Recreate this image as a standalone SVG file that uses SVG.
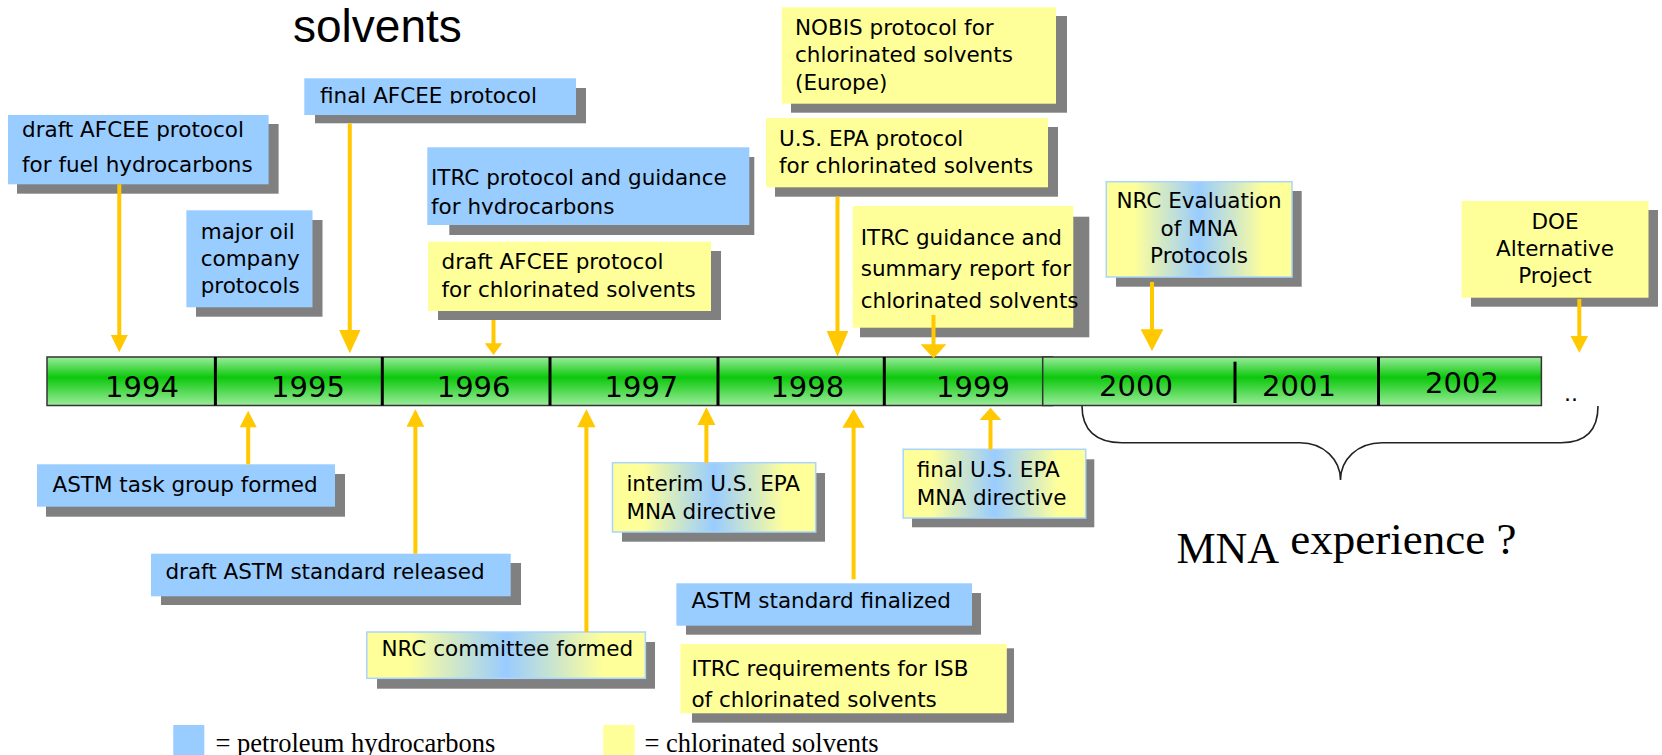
<svg xmlns="http://www.w3.org/2000/svg" width="1662" height="755" viewBox="0 0 1662 755">
<style>
.t{font-family:"DejaVu Sans","Liberation Sans",sans-serif;font-size:21.5px;fill:#000}
.yr{font-family:"DejaVu Sans","Liberation Sans",sans-serif;font-size:29px;fill:#000;text-anchor:middle}
.c{text-anchor:middle}
.blue{fill:#99CCFF}
.yel{fill:#FFFF99}
.shd{fill:#808080}
.grad{fill:url(#gyb);stroke:#A8D4FF;stroke-width:1.5}
.ln{stroke:#FFC800;stroke-width:4;fill:none}
.hd{fill:#FFC800}
.div{stroke:#000;stroke-width:3}
.serif{font-family:"Liberation Serif","Times New Roman",serif;fill:#000}
</style>
<defs>
<linearGradient id="gyb" x1="0" y1="0" x2="1" y2="0">
<stop offset="0" stop-color="#FFFF99"/>
<stop offset="0.15" stop-color="#FFFF99"/>
<stop offset="0.5" stop-color="#99CCFF"/>
<stop offset="0.85" stop-color="#FFFF99"/>
<stop offset="1" stop-color="#FFFF99"/>
</linearGradient>
<linearGradient id="bar" x1="0" y1="0" x2="0" y2="1">
<stop offset="0" stop-color="#9CEC9C"/>
<stop offset="0.42" stop-color="#0CC80C"/>
<stop offset="1" stop-color="#9CEC9C"/>
</linearGradient>
<clipPath id="clipC"><rect x="300" y="75" width="280" height="28.5"/></clipPath>
<clipPath id="clipI"><rect x="425" y="145" width="330" height="69.5"/></clipPath>
</defs>

<text x="293" y="41.5" style="font-family:'Liberation Sans',Arial,sans-serif;font-size:46px;fill:#000">solvents</text>

<g id="timeline">
<rect x="47" y="357" width="1005.5" height="48.5" fill="url(#bar)" stroke="#333" stroke-width="1.5"/>
<rect x="1042.7" y="357" width="498.7" height="48.5" fill="url(#bar)" stroke="#333" stroke-width="1.5"/>
<line class="div" x1="215.4" y1="357" x2="215.4" y2="405.5"/>
<line class="div" x1="382.3" y1="357" x2="382.3" y2="405.5"/>
<line class="div" x1="550" y1="357" x2="550" y2="405.5"/>
<line class="div" x1="718" y1="357" x2="718" y2="405.5"/>
<line class="div" x1="884.3" y1="357" x2="884.3" y2="405.5"/>
<line class="div" x1="1235" y1="361.7" x2="1235" y2="403" stroke-width="2.5"/>
<line class="div" x1="1378.5" y1="357" x2="1378.5" y2="405.5" stroke-width="2.5"/>
<text class="yr" x="142" y="396.5">1994</text>
<text class="yr" x="308" y="396.5">1995</text>
<text class="yr" x="473.6" y="396.5">1996</text>
<text class="yr" x="641.4" y="396.5">1997</text>
<text class="yr" x="807.3" y="396.5">1998</text>
<text class="yr" x="973" y="396.5">1999</text>
<text class="yr" x="1136" y="396">2000</text>
<text class="yr" x="1299" y="396">2001</text>
<text class="yr" x="1462" y="392.7">2002</text>
<text class="t" x="1564" y="401" style="font-size:22px">..</text>
<path d="M1082,406 C1082,430 1096,442.7 1122,442.7 L1300,442.7 C1324,442.7 1340.5,460 1340.5,480 C1340.5,460 1357,442.7 1382,442.7 L1561,442.7 C1586,442.7 1598,430 1598,406" fill="none" stroke="#222" stroke-width="1.6"/>
<text class="serif" x="1176.4" y="562.7" style="font-size:44px">MNA<tspan dy="-8.4" style="font-size:45px"> experience ?</tspan></text>
</g>

<g id="n-draft-afcee-fuel">
<rect class="shd" x="17" y="124" width="261.6" height="69.7"/>
<rect class="blue" x="8" y="115" width="260.6" height="69.3"/>
<text class="t" x="22" y="137.3">draft AFCEE protocol</text>
<text class="t" x="22" y="171.7">for fuel hydrocarbons</text>
</g>

<g id="n-major-oil">
<rect class="shd" x="196" y="220" width="126.5" height="96.7"/>
<rect class="blue" x="186.4" y="210.3" width="126.1" height="97"/>
<text class="t" x="200.7" y="238.7">major oil</text>
<text class="t" x="200.7" y="265.7">company</text>
<text class="t" x="200.7" y="292.7">protocols</text>
</g>

<g id="n-final-afcee">
<rect class="shd" x="315" y="88" width="271" height="35.3"/>
<rect class="blue" x="304.3" y="78.3" width="271.7" height="36.7"/>
<text class="t" x="320" y="103.3" clip-path="url(#clipC)">final AFCEE protocol</text>
</g>

<g id="n-itrc-hydrocarbons">
<rect class="shd" x="449.3" y="157" width="305" height="78"/>
<rect class="blue" x="427.3" y="147.3" width="322" height="77.7"/>
<g clip-path="url(#clipI)">
<text class="t" x="431" y="185">ITRC protocol and guidance</text>
<text class="t" x="431" y="214">for hydrocarbons</text>
</g>
</g>

<g id="n-draft-afcee-chlor">
<rect class="shd" x="438" y="251" width="283" height="69"/>
<rect class="yel" x="428" y="241.7" width="283" height="69.3"/>
<text class="t" x="441.5" y="269.3">draft AFCEE protocol</text>
<text class="t" x="441.5" y="296.7">for chlorinated solvents</text>
</g>

<g id="n-nobis">
<rect class="shd" x="791" y="16" width="276" height="96.7"/>
<rect class="yel" x="781.7" y="7.3" width="274.3" height="96.4"/>
<text class="t" x="795" y="34.7">NOBIS protocol for</text>
<text class="t" x="795" y="62.3">chlorinated solvents</text>
<text class="t" x="795" y="90">(Europe)</text>
</g>

<g id="n-usepa-protocol">
<rect class="shd" x="775" y="127" width="283" height="69.7"/>
<rect class="yel" x="766" y="118" width="282" height="69.3"/>
<text class="t" x="779" y="146">U.S. EPA protocol</text>
<text class="t" x="779" y="173.3">for chlorinated solvents</text>
</g>

<g id="n-itrc-guidance">
<rect class="shd" x="860" y="216.7" width="229.3" height="120.6"/>
<rect class="yel" x="852.7" y="206" width="220.6" height="121.7"/>
<text class="t" x="860.7" y="245">ITRC guidance and</text>
<text class="t" x="860.7" y="276">summary report for</text>
<text class="t" x="860.7" y="308.3">chlorinated solvents</text>
</g>

<g id="n-nrc-evaluation">
<rect class="shd" x="1116" y="191" width="185.7" height="95.7"/>
<rect class="grad" x="1106.3" y="181.7" width="185.7" height="95.3"/>
<text class="t c" x="1199" y="208.3">NRC Evaluation</text>
<text class="t c" x="1199" y="235.7">of MNA</text>
<text class="t c" x="1199" y="263.3">Protocols</text>
</g>

<g id="n-doe">
<rect class="shd" x="1471" y="210" width="187" height="96.7"/>
<rect class="yel" x="1461.6" y="201" width="186.9" height="96.7"/>
<text class="t c" x="1555" y="229.3">DOE</text>
<text class="t c" x="1555" y="256">Alternative</text>
<text class="t c" x="1555" y="282.7">Project</text>
</g>

<g id="n-astm-task">
<rect class="shd" x="46" y="474" width="299" height="42.7"/>
<rect class="blue" x="37" y="464.3" width="298" height="42.4"/>
<text class="t" x="52.5" y="491.7">ASTM task group formed</text>
</g>

<g id="n-draft-astm">
<rect class="shd" x="161" y="563" width="360" height="42"/>
<rect class="blue" x="151" y="553.7" width="359.7" height="42.6"/>
<text class="t" x="165.4" y="579">draft ASTM standard released</text>
</g>

<g id="n-nrc-committee">
<rect class="shd" x="377" y="642" width="278" height="46.7"/>
<rect class="grad" x="366.8" y="632" width="278.6" height="46.3"/>
<text class="t" x="381.4" y="656">NRC committee formed</text>
</g>

<g id="n-interim-epa">
<rect class="shd" x="622" y="473" width="203" height="68.7"/>
<rect class="grad" x="612.5" y="462.7" width="203.2" height="69.3"/>
<text class="t" x="626.4" y="490.7">interim U.S. EPA</text>
<text class="t" x="626.4" y="519">MNA directive</text>
</g>

<g id="n-astm-final">
<rect class="shd" x="686" y="593" width="295" height="41.7"/>
<rect class="blue" x="676.4" y="583.3" width="295.6" height="42.4"/>
<text class="t" x="691.4" y="608.3">ASTM standard finalized</text>
</g>

<g id="n-itrc-isb">
<rect class="shd" x="692" y="648.3" width="322" height="74.4"/>
<rect class="yel" x="680.4" y="644" width="326.4" height="69.3"/>
<text class="t" x="691.4" y="675.7">ITRC requirements for ISB</text>
<text class="t" x="691.4" y="707.3">of chlorinated solvents</text>
</g>

<g id="n-final-epa">
<rect class="shd" x="912" y="459.3" width="182.3" height="68"/>
<rect class="grad" x="903.2" y="449.3" width="182.5" height="68.7"/>
<text class="t" x="916.8" y="476.7">final U.S. EPA</text>
<text class="t" x="916.8" y="505">MNA directive</text>
</g>

<g id="connectors">
<line class="ln" x1="119.3" y1="184.3" x2="119.3" y2="336" stroke-width="3.2"/>
<polygon class="hd" points="110.8,335 127.8,335 119.3,352.3"/>
<line class="ln" x1="349.8" y1="123.5" x2="349.8" y2="331" stroke-width="4.5"/>
<polygon class="hd" points="339.1,330 360.5,330 349.8,353.3"/>
<line class="ln" x1="493.5" y1="320" x2="493.5" y2="344"/>
<polygon class="hd" points="484.8,343.3 502.2,343.3 493.5,355"/>
<line class="ln" x1="837.5" y1="196.7" x2="837.5" y2="332" stroke-width="4.5"/>
<polygon class="hd" points="826.7,331 848.3,331 837.5,356.7"/>
<line class="ln" x1="933.5" y1="315" x2="933.5" y2="345" stroke-width="4.5"/>
<polygon class="hd" points="920.5,344.3 946.5,344.3 933.5,358.3"/>
<line class="ln" x1="1152" y1="282" x2="1152" y2="330" stroke-width="4.5"/>
<polygon class="hd" points="1140.6,329.3 1163.4,329.3 1152,351"/>
<line class="ln" x1="1579.3" y1="299" x2="1579.3" y2="337" stroke-width="3.5"/>
<polygon class="hd" points="1570.5,336 1588.1,336 1579.3,352.7"/>
<line class="ln" x1="248.2" y1="464.3" x2="248.2" y2="426.5"/>
<polygon class="hd" points="239.7,427.3 256.7,427.3 248.2,410.7"/>
<line class="ln" x1="415.4" y1="553.7" x2="415.4" y2="426"/>
<polygon class="hd" points="406.5,426.7 424.3,426.7 415.4,409.3"/>
<line class="ln" x1="586.4" y1="632" x2="586.4" y2="426.5"/>
<polygon class="hd" points="577.2,427.3 595.6,427.3 586.4,409.3"/>
<line class="ln" x1="706.4" y1="462.7" x2="706.4" y2="424.3"/>
<polygon class="hd" points="697.4,425 715.4,425 706.4,407.3"/>
<line class="ln" x1="853.6" y1="579.3" x2="853.6" y2="427" stroke-width="4.5"/>
<polygon class="hd" points="842.4,427.7 864.8,427.7 853.6,409"/>
<line class="ln" x1="990.5" y1="449.3" x2="990.5" y2="419.3" stroke-width="4.5"/>
<polygon class="hd" points="979.6,420 1001.4,420 990.5,407.7"/>
</g>

<g id="legend">
<rect class="blue" x="173.3" y="725" width="31" height="30"/>
<text class="serif" x="215.4" y="751.7" style="font-size:26.5px">= petroleum hydrocarbons</text>
<rect class="yel" x="603.2" y="725" width="31.5" height="30"/>
<text class="serif" x="644.4" y="751.7" style="font-size:26.5px">= chlorinated solvents</text>
</g>
</svg>
